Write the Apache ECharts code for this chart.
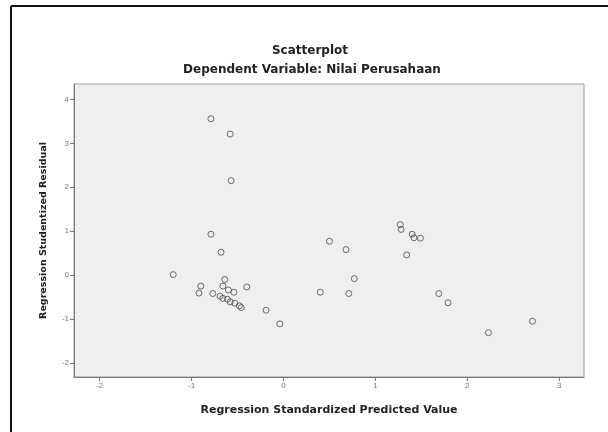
<!DOCTYPE html>
<html>
<head>
<meta charset="utf-8">
<title>Scatterplot</title>
<script src="https://cdn.jsdelivr.net/npm/echarts@6/dist/echarts.min.js"></script>
<style>
  html, body { margin: 0; padding: 0; background: #fff; }
  #chart { width: 608px; height: 432px; }
</style>
</head>
<body>
<div id="chart"></div>
<script>
'use strict';

// predicted value (x) and studentized residual (y)
var predicted = [
    -0.79, -0.58, -0.57, -0.79, -0.68, -1.20, -0.90, -0.92, -0.77, -0.64,
    -0.66, -0.60, -0.54, -0.40, -0.69, -0.66, -0.61, -0.58, -0.53, -0.48,
    -0.46, -0.19, -0.04, 0.40, 0.50, 0.68, 0.77, 0.71, 1.27, 1.28,
    1.40, 1.42, 1.49, 1.34, 1.69, 1.79, 2.23, 2.71
];
var residual = [
    3.56, 3.21, 2.15, 0.93, 0.52, 0.01, -0.25, -0.41, -0.42, -0.10,
    -0.25, -0.34, -0.39, -0.27, -0.48, -0.53, -0.55, -0.61, -0.64, -0.70,
    -0.74, -0.80, -1.11, -0.39, 0.77, 0.58, -0.08, -0.42, 1.15, 1.04,
    0.93, 0.85, 0.84, 0.46, -0.42, -0.63, -1.31, -1.05
];

var xTicks = [-2, -1, 0, 1, 2, 3];
var yTicks = [-2, -1, 0, 1, 2, 3, 4];

var titleText = 'Scatterplot';
var subTitleText = 'Dependent Variable: Nilai Perusahaan';
var xName = 'Regression Standardized Predicted Value';
var yName = 'Regression Studentized Residual';

var points = predicted.map(function (x, i) {
    return [x, residual[i]];
});

var FONT = '"Liberation Sans", Arial, sans-serif';
var BOLD_FONT = '"DejaVu Sans", "Liberation Sans", sans-serif';

var chart = echarts.init(document.getElementById('chart'));

var option = {
    backgroundColor: '#ffffff',
    animation: false,
    title: [
        {
            text: titleText,
            left: 305,
            top: 40,
            textAlign: 'center',
            textStyle: { fontFamily: BOLD_FONT, fontSize: 12, fontWeight: 'bold', color: '#222' }
        },
        {
            text: subTitleText,
            left: 307,
            top: 59,
            textAlign: 'center',
            textStyle: { fontFamily: BOLD_FONT, fontSize: 12, fontWeight: 'bold', color: '#222' }
        }
    ],
    grid: {
        left: 74,
        right: 24,
        top: 84,
        bottom: 55,
        show: true,
        backgroundColor: '#efefef',
        borderColor: '#9a9a9a',
        borderWidth: 1
    },
    xAxis: {
        type: 'value',
        min: -2.28,
        max: 3.27,
        name: xName,
        nameLocation: 'middle',
        nameGap: 28,
        nameTextStyle: { fontFamily: BOLD_FONT, fontSize: 11, fontWeight: 'bold', color: '#222' },
        axisLine: { show: true, onZero: false, lineStyle: { color: '#777', width: 1 } },
        axisTick: { show: true, length: 4, customValues: xTicks, lineStyle: { color: '#777' } },
        axisLabel: {
            customValues: xTicks,
            fontFamily: FONT, fontSize: 8, color: '#777', margin: 5
        },
        splitLine: { show: false }
    },
    yAxis: {
        type: 'value',
        min: -2.32,
        max: 4.35,
        name: yName,
        nameLocation: 'middle',
        nameGap: 25,
        nameTextStyle: { fontFamily: BOLD_FONT, fontSize: 9.5, fontWeight: 'bold', color: '#222' },
        axisLine: { show: true, onZero: false, lineStyle: { color: '#777', width: 1 } },
        axisTick: { show: true, length: 4, customValues: yTicks, lineStyle: { color: '#777' } },
        axisLabel: {
            customValues: yTicks,
            fontFamily: FONT, fontSize: 8, color: '#777', margin: 5
        },
        splitLine: { show: false }
    },
    series: [
        {
            type: 'scatter',
            data: points,
            symbol: 'circle',
            symbolSize: 6,
            itemStyle: {
                color: 'rgba(0,0,0,0)',
                borderColor: '#4a4a4a',
                borderWidth: 1
            },
            emphasis: { disabled: true }
        }
    ],
    // outer frame of the picture: left and top edges
    graphic: [
        {
            type: 'line',
            shape: { x1: 11, y1: 6, x2: 608, y2: 6 },
            style: { stroke: '#111', lineWidth: 2 }
        },
        {
            type: 'line',
            shape: { x1: 11, y1: 6, x2: 11, y2: 432 },
            style: { stroke: '#111', lineWidth: 2 }
        }
    ]
};

try {
    chart.setOption(option);
} catch (err) {
    console.error(err);
}
</script>
</body>
</html>
